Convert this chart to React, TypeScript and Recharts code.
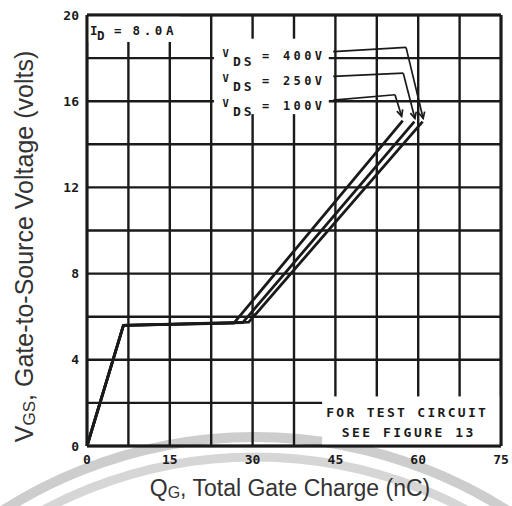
import React from "react";
import {
  LineChart,
  Line,
  XAxis,
  YAxis,
  CartesianGrid,
  ReferenceLine,
  ReferenceArea
} from "recharts";

// axis grid: a line every 7.5 nC and every 2 V, labels on every other one
const chargeTicks = [0, 7.5, 15, 22.5, 30, 37.5, 45, 52.5, 60, 67.5, 75];
const voltTicks = [0, 2, 4, 6, 8, 10, 12, 14, 16, 18, 20];
const chargeLabels = [0, 15, 30, 45, 60, 75];
const voltLabels = [0, 4, 8, 12, 16, 20];

// gate charge curves (nC, V)
const charge100 = [0, 6.6, 26.6, 57.2];
const vgs100 = [0, 5.6, 5.7, 15.1];
const charge250 = [0, 6.6, 28.2, 59.3];
const vgs250 = [0, 5.6, 5.72, 15.05];
const charge400 = [0, 6.6, 29.3, 60.8];
const vgs400 = [0, 5.6, 5.75, 15.05];

const vdsValues = ["400V", "250V", "100V"];

// leader lines from the V_DS labels to the curve ends
const leader400 = [
  { x: 44.6, y: 18.3 },
  { x: 57.8, y: 18.5 },
  { x: 60.9, y: 15.2 }
];
const leader250 = [
  { x: 44.6, y: 17.15 },
  { x: 57.3, y: 17.3 },
  { x: 59.4, y: 15.2 }
];
const leader100 = [
  { x: 44.6, y: 16.05 },
  { x: 55.8, y: 16.3 },
  { x: 57.0, y: 15.3 }
];

const toPoints = (q: number[], v: number[]) =>
  q.map((val, i) => ({ q: val, v: v[i] }));

const INK = "#1a1a1a";
const MONO = "'DejaVu Sans Mono', 'Liberation Mono', monospace";
const SANS = "'Liberation Sans', Arial, sans-serif";

const ArrowLine = (p: any) => {
  const { x1, y1, x2, y2 } = p;
  const a = Math.atan2(y2 - y1, x2 - x1);
  const len = 7;
  const h1x = x2 - len * Math.cos(a - 0.45);
  const h1y = y2 - len * Math.sin(a - 0.45);
  const h2x = x2 - len * Math.cos(a + 0.45);
  const h2y = y2 - len * Math.sin(a + 0.45);
  return (
    <g>
      <line x1={x1} y1={y1} x2={x2} y2={y2} stroke={INK} strokeWidth={1.7} />
      <path
        d={`M${h1x},${h1y}L${x2},${y2}L${h2x},${h2y}`}
        fill="none"
        stroke={INK}
        strokeWidth={1.7}
      />
    </g>
  );
};

const IdBox = (p: any) => {
  const { x, y, width, height } = p;
  return (
    <g>
      <rect x={x} y={y} width={width} height={height} fill="#fff" />
      <text fontFamily={MONO} fontWeight="bold" fill={INK} fontSize={12.5}>
        <tspan x={x + 3} y={y + 20}>I</tspan>
        <tspan x={x + 10} y={y + 24.5}>D</tspan>
        <tspan x={x + 27} y={y + 20}>=</tspan>
        <tspan x={x + 45.5} y={y + 20} letterSpacing={3.6}>8.0A</tspan>
      </text>
    </g>
  );
};

const VdsBox = (p: any) => {
  const { x, y, width, height } = p;
  return (
    <g>
      <rect x={x} y={y} width={width} height={height} fill="#fff" />
      {vdsValues.map((val, i) => {
        const base = y + 21.3 + i * 25;
        return (
          <text key={val} fontFamily={MONO} fontWeight="bold" fill={INK}>
            <tspan x={x + 8.5} y={base - 2.7} fontSize={10.5}>V</tspan>
            <tspan x={x + 19} y={base + 6} fontSize={13} letterSpacing={3}>DS</tspan>
            <tspan x={x + 48} y={base} fontSize={12}>=</tspan>
            <tspan x={x + 69} y={base} fontSize={12} letterSpacing={3.4}>{val}</tspan>
          </text>
        );
      })}
    </g>
  );
};

const TestBox = (p: any) => {
  const { x, y, width, height } = p;
  return (
    <g>
      <rect x={x} y={y} width={width} height={height} fill="#fff" />
      <text fontFamily={MONO} fontWeight="bold" fill={INK} fontSize={13}>
        <tspan x={x + 4} y={y + 20.3} letterSpacing={2.3}>FOR TEST CIRCUIT</tspan>
        <tspan x={x + 19.5} y={y + 41} letterSpacing={2.5}>SEE FIGURE 13</tspan>
      </text>
    </g>
  );
};

const XTitle = (p: any) => {
  const vb = p.viewBox;
  return (
    <text
      x={vb.x + vb.width / 2 - 4}
      y={vb.y + 50}
      textAnchor="middle"
      fontFamily={SANS}
      fontSize={23}
      fill="#333"
    >
      Q<tspan fontSize={16} dy={2}>G</tspan>
      <tspan dy={-2}>, Total Gate Charge (nC)</tspan>
    </text>
  );
};

const YTitle = (p: any) => {
  const vb = p.viewBox;
  const cx = vb.x + 33;
  const cy = vb.y + vb.height / 2 + 16;
  return (
    <text
      x={cx}
      y={cy}
      transform={`rotate(-90, ${cx}, ${cy})`}
      textAnchor="middle"
      fontFamily={SANS}
      fontSize={25}
      fill="#333"
    >
      V<tspan fontSize={17} dy={2}>GS</tspan>
      <tspan dy={-2}>, Gate-to-Source Voltage (volts)</tspan>
    </text>
  );
};

const Watermark = () => (
  <svg
    width={512}
    height={506}
    style={{ position: "absolute", left: 0, top: 0 }}
  >
    <circle cx={255} cy={906} r={469} fill="none" stroke="#cdcdcd" strokeWidth={10} />
    <circle cx={255} cy={906} r={449} fill="none" stroke="#d6d6d6" strokeWidth={9} />
  </svg>
);

export default function App() {
  const tickStyle = { fontFamily: MONO, fontSize: 13, fontWeight: "bold", fill: INK };
  return (
    <div
      style={{
        position: "absolute",
        left: 0,
        top: 0,
        width: 512,
        height: 506,
        background: "#fff",
        overflow: "hidden"
      }}
    >
      <Watermark />
      <div style={{ position: "absolute", left: 0, top: 0 }}>
        <LineChart
          width={512}
          height={506}
          margin={{ top: 15, right: 11, left: 0, bottom: 0 }}
        >
          <CartesianGrid stroke={INK} strokeWidth={2.4} />
          <XAxis
            type="number"
            dataKey="q"
            domain={[0, 75]}
            ticks={chargeTicks}
            interval={0}
            height={60}
            axisLine={false}
            tickLine={false}
            tickMargin={3}
            tick={tickStyle}
            tickFormatter={(v: number) => (chargeLabels.includes(v) ? String(v) : "")}
            label={{ content: XTitle }}
          />
          <YAxis
            type="number"
            domain={[0, 20]}
            ticks={voltTicks}
            interval={0}
            width={87}
            axisLine={false}
            tickLine={false}
            tick={tickStyle}
            tickFormatter={(v: number) => (voltLabels.includes(v) ? String(v) : "")}
            label={{ content: YTitle }}
          />
          <ReferenceArea x1={0} x2={16.8} y1={18.75} y2={20} shape={IdBox} />
          <ReferenceArea x1={23} x2={43.8} y1={15.4} y2={18.9} shape={VdsBox} />
          <ReferenceArea x1={42.6} x2={75} y1={0} y2={2.3} shape={TestBox} />
          <ReferenceLine x={0} stroke={INK} strokeWidth={3} />
          <ReferenceLine x={75} stroke={INK} strokeWidth={3} />
          <ReferenceLine y={0} stroke={INK} strokeWidth={3} />
          <ReferenceLine y={20} stroke={INK} strokeWidth={3} />
          {[leader400, leader250, leader100].map((l, i) => (
            <ReferenceLine
              key={"h" + i}
              segment={[l[0], l[1]]}
              stroke={INK}
              strokeWidth={1.7}
            />
          ))}
          {[leader400, leader250, leader100].map((l, i) => (
            <ReferenceLine key={"a" + i} segment={[l[1], l[2]]} shape={ArrowLine} />
          ))}
          <Line
            data={toPoints(charge100, vgs100)}
            dataKey="v"
            type="linear"
            stroke={INK}
            strokeWidth={2.8}
            dot={false}
            isAnimationActive={false}
          />
          <Line
            data={toPoints(charge250, vgs250)}
            dataKey="v"
            type="linear"
            stroke={INK}
            strokeWidth={2.8}
            dot={false}
            isAnimationActive={false}
          />
          <Line
            data={toPoints(charge400, vgs400)}
            dataKey="v"
            type="linear"
            stroke={INK}
            strokeWidth={2.8}
            dot={false}
            isAnimationActive={false}
          />
        </LineChart>
      </div>
    </div>
  );
}
